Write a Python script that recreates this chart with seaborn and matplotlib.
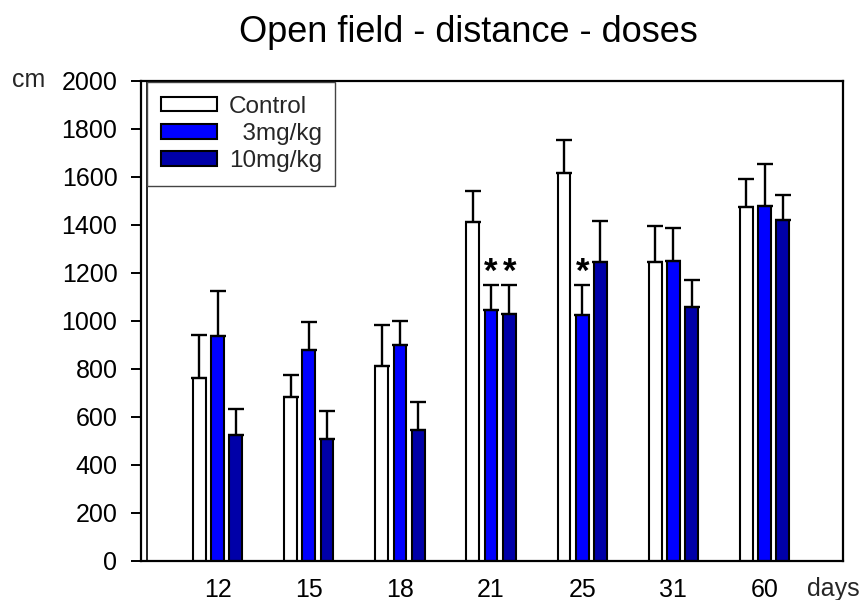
import matplotlib
matplotlib.use("Agg")
import matplotlib.pyplot as plt
import seaborn as sns
import pandas as pd
import numpy as np

# Open field test: distance travelled (cm) per dose group, mean + SEM
days = ["12", "15", "18", "21", "25", "31", "60"]
groups = ["Control", "3mg/kg", "10mg/kg"]
legend_labels = ["Control", "  3mg/kg", "10mg/kg"]

control_mean = [760, 683, 812, 1412, 1617, 1243, 1472]
control_sem = [180, 92, 170, 130, 138, 153, 118]
dose3_mean = [935, 880, 900, 1045, 1024, 1250, 1477]
dose3_sem = [188, 116, 100, 106, 126, 135, 175]
dose10_mean = [523, 507, 546, 1027, 1247, 1057, 1422]
dose10_sem = [112, 117, 116, 123, 170, 115, 100]

# significant differences vs. control
stars = [("21", "3mg/kg"), ("21", "10mg/kg"), ("25", "3mg/kg")]

palette = {"Control": "#FFFFFF", "3mg/kg": "#0000FF", "10mg/kg": "#0000A8"}

means = {"Control": control_mean, "3mg/kg": dose3_mean, "10mg/kg": dose10_mean}
sems = {"Control": control_sem, "3mg/kg": dose3_sem, "10mg/kg": dose10_sem}

df = pd.DataFrame(
    [(d, g, means[g][i], sems[g][i]) for g in groups for i, d in enumerate(days)],
    columns=["day", "group", "distance", "sem"],
)

sns.set_style("ticks")
plt.rcParams["font.family"] = ["Liberation Sans", "DejaVu Sans"]

fig = plt.figure(figsize=(8.65, 6.0), dpi=100)
ax = fig.add_axes([141 / 865, 1 - 561 / 600, (843 - 141) / 865, (561 - 80.7) / 600])

sns.barplot(
    data=df, x="day", y="distance", hue="group", order=days, hue_order=groups,
    palette=palette, errorbar=None, width=0.6, gap=0.3,
    edgecolor="black", linewidth=1.5, ax=ax, legend=False, saturation=1,
)
bar_containers = list(ax.containers)

# upward-only error bars on each bar
centers = {}
for g, cont in zip(groups, bar_containers):
    for i, bar in enumerate(cont):
        xc = bar.get_x() + bar.get_width() / 2
        h = bar.get_height()
        centers[(days[i], g)] = (xc, h)
        ax.errorbar(
            xc, h, yerr=[[0], [sems[g][i]]], fmt="none", ecolor="black",
            elinewidth=1.7, capsize=6, capthick=1.7, zorder=1,
        )

for d, g in stars:
    xc, h = centers[(d, g)]
    top = h + sems[g][days.index(d)]
    ax.annotate("*", (xc, top), xytext=(0, -3), textcoords="offset points",
                ha="center", va="bottom", fontsize=25, fontweight="bold",
                color="black")

ax.set_xlim(-0.84, 6.86)
ax.set_ylim(0, 2000)
ax.set_yticks(np.arange(0, 2001, 200))
ax.set_xlabel("")
ax.set_ylabel("")

for side in ["left", "right", "top", "bottom"]:
    ax.spines[side].set_visible(True)
    ax.spines[side].set_color("black")
    ax.spines[side].set_linewidth(1.6)
ax.plot([0.008, 0.008], [0, 1], transform=ax.transAxes, color="black", lw=1.2, clip_on=False)

ax.tick_params(axis="y", direction="out", length=7, width=1.4, pad=10,
               labelsize=18, colors="black", right=False)
ax.tick_params(axis="x", length=0, pad=12, labelsize=18, colors="black")

handles = [c.patches[0] for c in bar_containers]
leg = ax.legend(
    handles, legend_labels, loc="upper left", bbox_to_anchor=(0.009, 0.997),
    borderaxespad=0, fontsize=17.5, frameon=True, fancybox=False,
    edgecolor="#444444", framealpha=1, handlelength=2.3, handleheight=0.55,
    handletextpad=0.5, labelspacing=0.22, borderpad=0.55,
)
leg.get_frame().set_linewidth(1.0)

fig.text(468 / 865, 1 - 42 / 600, "Open field - distance - doses",
         ha="center", va="baseline", fontsize=26, color="black")
fig.text(45 / 865, 1 - 80 / 600, "cm", ha="right", va="center", fontsize=18)
fig.text(807 / 865, 1 - 589 / 600, "days", ha="left", va="center", fontsize=18)

fig.savefig("out.png", dpi=100, facecolor="white")
